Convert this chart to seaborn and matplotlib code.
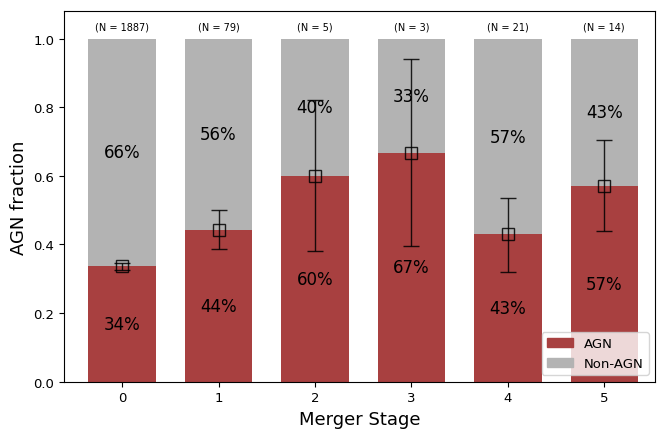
import numpy as np
import pandas as pd
import matplotlib
matplotlib.use("Agg")
import matplotlib.pyplot as plt
from matplotlib.patches import Patch
import seaborn as sns

# Merger stage sample
stages = [0, 1, 2, 3, 4, 5]
n_total = [1887, 79, 5, 3, 21, 14]
agn_frac = [0.336, 0.443, 0.600, 0.667, 0.429, 0.571]
err_low = [0.326, 0.388, 0.381, 0.395, 0.320, 0.439]
err_high = [0.346, 0.500, 0.820, 0.939, 0.535, 0.704]

agn_color = "#A84040"
non_color = "#B3B3B3"

df = pd.DataFrame({
    "stage": stages,
    "total": [1.0] * len(stages),
    "agn": agn_frac,
})

sns.set_style("ticks", {
    "axes.edgecolor": "black",
    "text.color": "black",
    "axes.labelcolor": "black",
    "xtick.color": "black",
    "ytick.color": "black",
})
fig, ax = plt.subplots(figsize=(6.62, 4.31), dpi=100)

sns.barplot(data=df, x="stage", y="total", color=non_color, saturation=1,
            width=0.7, linewidth=0, ax=ax)
sns.barplot(data=df, x="stage", y="agn", color=agn_color, saturation=1,
            width=0.7, linewidth=0, ax=ax)

frac = np.array(agn_frac)
yerr = np.vstack([frac - np.array(err_low), np.array(err_high) - frac])
ax.errorbar(stages, frac, yerr=yerr, fmt="s", mfc="none", mec="k", ms=8,
            mew=1, ecolor="k", elinewidth=1, capsize=6, alpha=0.85, zorder=5)

for x, f, n in zip(stages, agn_frac, n_total):
    ax.text(x, f / 2, f"{f:.0%}", ha="center", va="center", fontsize=12,
            color="black")
    ax.text(x, f + (1 - f) / 2, f"{1 - f:.0%}", ha="center", va="center",
            fontsize=12, color="black")
    ax.text(x, 1.02, f"(N = {n})", ha="center", va="bottom", fontsize=7,
            color="black")

ax.set_xlim(-0.6, 5.53)
ax.set_ylim(0, 1.08)
ax.set_yticks([0.0, 0.2, 0.4, 0.6, 0.8, 1.0])
ax.set_xlabel("Merger Stage", fontsize=13)
ax.set_ylabel("AGN fraction", fontsize=13)
ax.tick_params(labelsize=9.5)

handles = [Patch(color=agn_color, label="AGN"),
           Patch(color=non_color, label="Non-AGN")]
ax.legend(handles=handles, loc="lower right", fontsize=9.5)

fig.subplots_adjust(left=0.097, right=0.99, top=0.972, bottom=0.112)
fig.savefig("out.png", dpi=100)
